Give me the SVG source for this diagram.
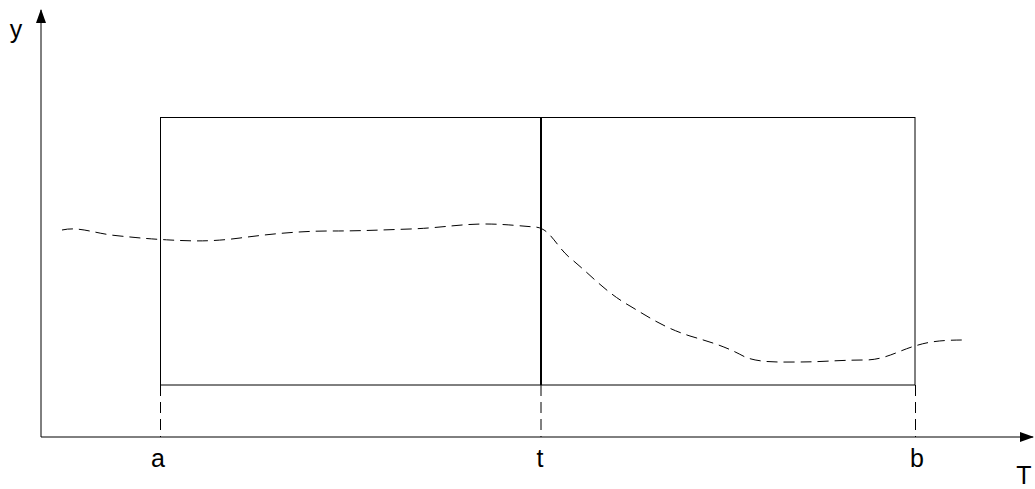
<svg xmlns="http://www.w3.org/2000/svg" width="1035" height="489" viewBox="0 0 1035 489">
<style>
.lbl{font-family:"Liberation Sans",Arial,sans-serif;font-size:25px;fill:#000;text-anchor:middle}
.ax{stroke:#000;stroke-width:1;fill:none}
.dash{stroke:#000;stroke-width:1;fill:none;stroke-dasharray:11,6}
</style>
<defs>
<marker id="arr" markerWidth="14" markerHeight="10" refX="13" refY="5" orient="auto" markerUnits="userSpaceOnUse">
<path d="M0,0 L14,5 L0,10 Z" fill="#000"/>
</marker>
</defs>
<g id="connectors">
<line class="ax" x1="41" y1="437" x2="41" y2="10" marker-end="url(#arr)"/>
<line class="ax" x1="41" y1="437" x2="1033" y2="437" marker-end="url(#arr)"/>
<line class="dash" x1="160.5" y1="385" x2="160.5" y2="437"/>
<line class="dash" x1="541" y1="385" x2="541" y2="437"/>
<line class="dash" x1="915.5" y1="385" x2="915.5" y2="437"/>
<path class="dash" d="M62,230 C80,226 95,234 120,236 C140,238 150,239 170,240 C190,241 210,242 240,238 C270,234 300,231 330,231 C360,231 380,230 410,229 C440,228 460,224 485,224 C505,224 520,226 535,227 C550,228 555,245 570,258 C590,274 605,292 630,306 C650,318 665,328 690,336 C710,342 725,346 745,357 C760,363 780,362 800,362 C820,362 840,360 865,360 C885,360 900,350 915,346 C930,341 945,340 965,340"/>
</g>
<g id="box">
<rect x="160.5" y="117.5" width="754.5" height="267.5" fill="none" stroke="#000" stroke-width="1"/>
<line x1="541" y1="117" x2="541" y2="385" stroke="#000" stroke-width="2"/>
</g>
<g id="labels">
<text class="lbl" x="16" y="38">y</text>
<text class="lbl" x="158" y="467">a</text>
<text class="lbl" x="540" y="467">t</text>
<text class="lbl" x="917" y="467">b</text>
<text class="lbl" x="1024" y="484">T</text>
</g>
</svg>
